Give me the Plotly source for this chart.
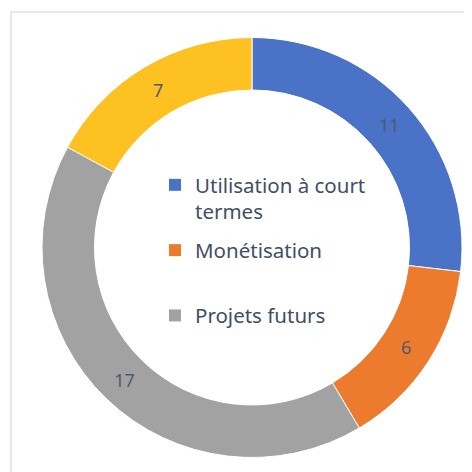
import plotly.graph_objects as go

categories = ["Utilisation à court termes", "Monétisation", "Projets futurs", "Autres"]
values = [11, 6, 17, 7]
colors = ["#4a72c6", "#ec7b2e", "#a2a2a2", "#fdc122"]
legend_names = ["Utilisation à court<br>termes", "Monétisation<br> ", "Projets futurs"]

W = H = 472
off = 8  # page body margin
cx, cy, r = 252 - off, 247.5 - off, 210

fig = go.Figure()
fig.add_trace(go.Pie(
    labels=categories, values=values, sort=False, direction="clockwise", rotation=0,
    hole=0.75, textinfo="value", textposition="inside", insidetextorientation="horizontal",
    textfont=dict(color="#505a6a", size=18, family="Noto Sans"),
    marker=dict(colors=colors, line=dict(color="white", width=1)),
    domain=dict(x=[(cx - r) / W, (cx + r) / W], y=[(H - cy - r) / H, (H - cy + r) / H]),
    showlegend=False, hoverinfo="label+value",
))
for i, (name, col) in enumerate(zip(legend_names, colors[:3])):
    fig.add_trace(go.Scatter(x=[None], y=[None], mode="markers", name=name, legendgroup=f"g{i}",
                             marker=dict(symbol="square", size=12, color=col)))

fig.update_layout(
    width=W, height=H, margin=dict(l=0, r=0, t=0, b=0),
    paper_bgcolor="white", plot_bgcolor="rgba(0,0,0,0)",
    xaxis=dict(visible=False), yaxis=dict(visible=False),
    legend=dict(x=(169 - off - 14) / W, y=1 - (165 - off) / H, xanchor="left", yanchor="top",
                bgcolor="rgba(0,0,0,0)", valign="top",
                font=dict(size=20.5, color="#414e63", family="Noto Sans"),
                itemsizing="constant", tracegroupgap=9),
    shapes=[dict(type="rect", xref="paper", yref="paper", x0=(11 - off) / W, x1=1.02, y0=-0.02,
                 y1=1 - (12 - off) / H,
                 line=dict(color="#dde1ea", width=1.5), fillcolor="rgba(0,0,0,0)", layer="below")],
)
fig.write_html("out.html")
